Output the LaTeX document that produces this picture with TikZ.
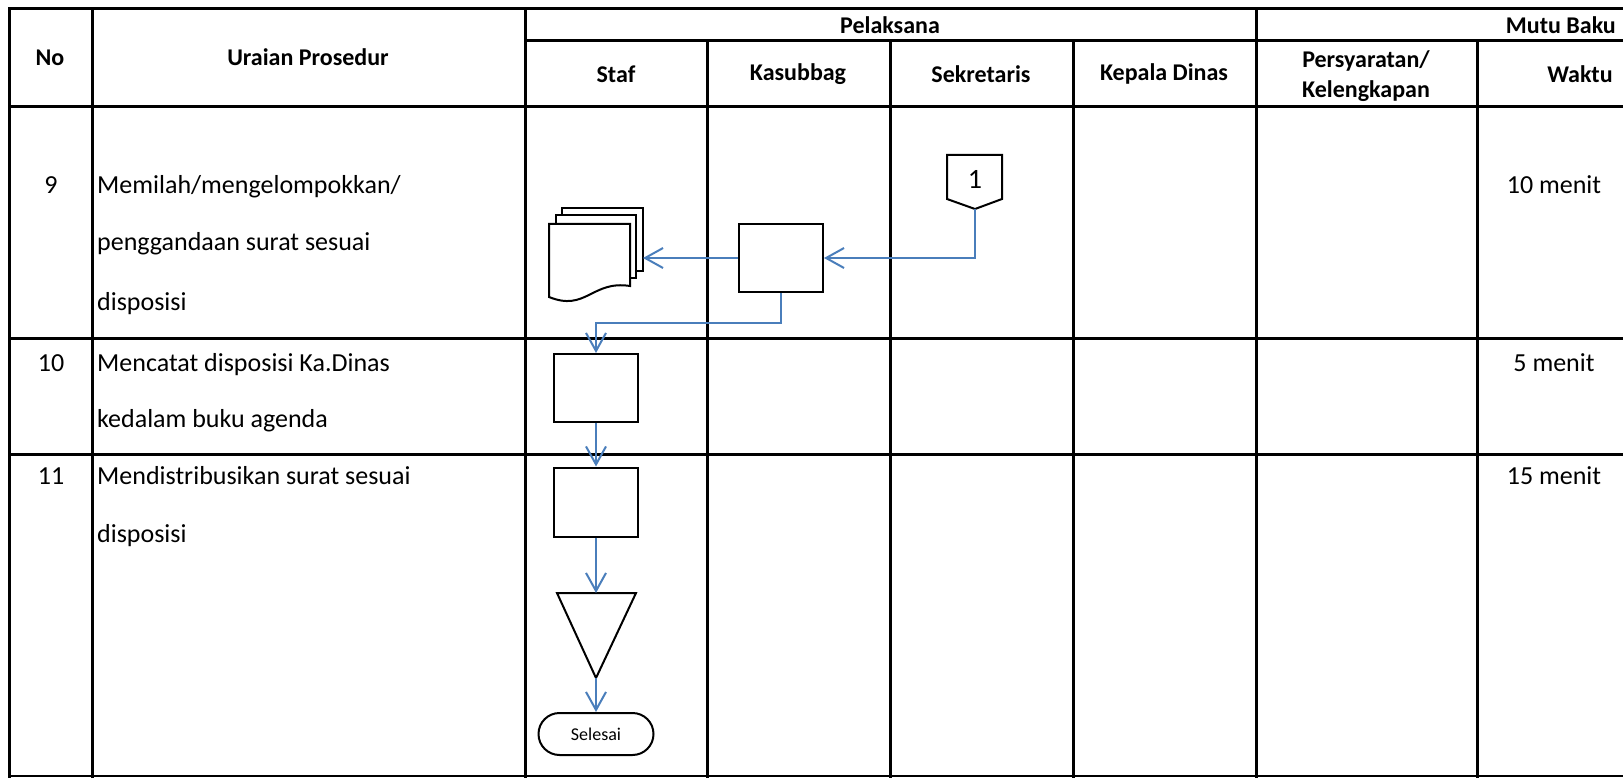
\documentclass[tikz,border=0pt]{standalone}
\usepackage{fontspec}
\setmainfont{Carlito}
\usepackage{tikz}
\usetikzlibrary{arrows.meta}
\definecolor{arrowblue}{RGB}{74,126,187}

\begin{document}
\begin{tikzpicture}[x=1pt,y=-1pt,
  grid/.style={line width=3pt, line cap=rect},
  hdr/.style={font=\fontsize{24}{30}\selectfont\bfseries, inner sep=0pt},
  txt/.style={font=\fontsize{26}{30}\selectfont, text height=20pt, text depth=6pt, inner sep=0pt},
  shp/.style={draw, line width=2pt, line join=miter},
  proc/.style={shp, minimum width=84pt, minimum height=68pt, inner sep=0pt},
  flow/.style={draw=arrowblue, line width=2pt, -{Straight Barb[length=18pt,width=20pt]}}]
 \useasboundingbox (0,0) rectangle (1623,778);
 % tabel
 \draw[grid] (9,9) -- (1623,9);
 \draw[grid] (525,41) -- (1623,41);
 \draw[grid] (9,107) -- (1623,107);
 \draw[grid] (9,338) -- (1623,338);
 \draw[grid] (9,454) -- (1623,454);
 \draw[line width=2pt] (9,776) -- (1623,776);
 \draw[grid] (9,9) -- (9,776);
 \draw[grid] (92,9) -- (92,776);
 \draw[grid] (525,9) -- (525,776);
 \draw[grid] (1256,9) -- (1256,776);
 \draw[grid] (707,41) -- (707,776);
 \draw[grid] (890,41) -- (890,776);
 \draw[grid] (1073,41) -- (1073,776);
 \draw[grid] (1477,41) -- (1477,776);
 % judul kolom
 \node[hdr] (no) at (50,58) {No};
 \node[hdr] (uraian) at (308,57) {Uraian Prosedur};
 \node[hdr] (pelaksana) at (890,25) {Pelaksana};
 \node[hdr, anchor=east] (mutu) at (1616,25) {Mutu Baku};
 \node[hdr] (staf) at (616,74) {Staf};
 \node[hdr] (kasubbag) at (798,74) {Kasubbag};
 \node[hdr] (sekretaris) at (981,74) {Sekretaris};
 \node[hdr] (kadis) at (1164,74) {Kepala Dinas};
 \node[hdr, align=center] (syarat) at (1366,76) {Persyaratan/\\Kelengkapan};
 \node[hdr] (waktu) at (1580,74) {Waktu};
 % uraian
 \node[txt] (n9) at (51,187) {9};
 \node[txt, anchor=west] (u9a) at (97,187) {Memilah/mengelompokkan/};
 \node[txt, anchor=west] (u9b) at (97,244) {penggandaan surat sesuai};
 \node[txt, anchor=west] (u9c) at (97,303) {disposisi};
 \node[txt] (n10) at (51,364) {10};
 \node[txt, anchor=west] (u10a) at (97,364) {Mencatat disposisi Ka.Dinas};
 \node[txt, anchor=west] (u10b) at (97,420) {kedalam buku agenda};
 \node[txt] (n11) at (51,477) {11};
 \node[txt, anchor=west] (u11a) at (97,477) {Mendistribusikan surat sesuai};
 \node[txt, anchor=west] (u11b) at (97,535) {disposisi};
 % waktu
 \node[txt] (w9) at (1554,187) {10 menit};
 \node[txt] (w10) at (1554,364) {5 menit};
 \node[txt] (w11) at (1554,477) {15 menit};
 % simbol
 \draw[shp] (947,155) -- (1002,155) -- (1002,199) -- (975,209) -- (947,199) -- cycle;
 \node[font=\fontsize{28}{30}\selectfont] (satu) at (975,179) {1};
 \coordinate (satuB) at (975,209);
 \node[proc] (kbox) at (781,258) {};
 \draw[shp, fill=white] (562,208) rectangle (643,271);
 \draw[shp, fill=white] (556,215) rectangle (636,278);
 \draw[shp, fill=white] (549,224) -- (630,224) -- (630,286)
   .. controls (592,280) and (586,312) .. (549,297) -- cycle;
 \coordinate (docR) at (643,258);
 \node[proc] (sbox10) at (596,388) {};
 \node[proc, minimum height=69pt] (sbox11) at (596,502) {};
 \draw[shp] (557,593) -- (636,593) -- (596,678) -- cycle;
 \coordinate (mrgTop) at (596,593);
 \coordinate (mrgTip) at (596,678);
 \node[shp, rounded corners=21pt, minimum width=115pt, minimum height=42pt,
   font=\fontsize{18}{20}\selectfont] (selesai) at (596,734) {Selesai};
 % panah
 \draw[flow] (satuB) |- (kbox.east);
 \draw[flow] (kbox.west) -- (docR);
 \draw[flow] (kbox.south) -- ++(0,30) -| (sbox10.north);
 \draw[flow] (sbox10.south) -- (sbox11.north);
 \draw[flow] (sbox11.south) -- (mrgTop);
 \draw[flow] (mrgTip) -- (selesai.north);
\end{tikzpicture}
\end{document}
